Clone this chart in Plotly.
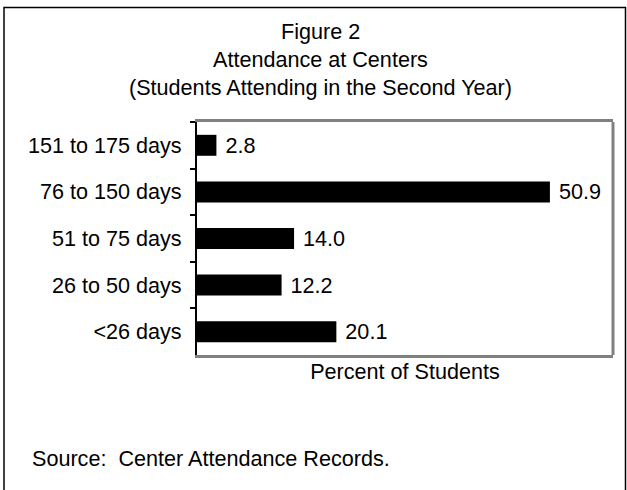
import plotly.graph_objects as go

# ---- data ----
categories = ["151 to 175 days", "76 to 150 days", "51 to 75 days", "26 to 50 days", "&lt;26 days"]
percent_students = [2.8, 50.9, 14.0, 12.2, 20.1]
value_labels = ["2.8", "50.9", "14.0", "12.2", "20.1"]

title_lines = ["Figure 2", "Attendance at Centers", "(Students Attending in the Second Year)"]
x_title = "Percent of Students"
source_text = "Source:  Center Attendance Records."

# ---- layout geometry (pixels) ----
W, H = 627, 490
L, R, T, B = 197, 613, 122, 355
pw, ph = R - L, B - T

def px_x(x):
    return (x - L) / pw

def px_y(y):
    return (B - y) / ph

FONT = "Liberation Sans, Arial, Helvetica, sans-serif"
FS = 21.6

fig = go.Figure()
fig.add_trace(go.Bar(
    x=percent_students,
    y=categories,
    orientation="h",
    marker=dict(color="black", line=dict(width=0)),
    text=[" " + v for v in value_labels],
    textposition="outside",
    constraintext="none",
    textfont=dict(family=FONT, size=FS, color="black"),
    cliponaxis=False,
    hoverinfo="skip",
))

title_y = [32, 60, 87]
annotations = [
    dict(text=line, xref="paper", yref="paper", x=px_x(320), y=px_y(yy),
         xanchor="center", yanchor="middle", showarrow=False,
         font=dict(family=FONT, size=FS, color="black"))
    for line, yy in zip(title_lines, title_y)
]
annotations.append(
    dict(text=source_text, xref="paper", yref="paper",
         x=px_x(30), y=px_y(458), xanchor="left", yanchor="middle",
         showarrow=False, font=dict(family=FONT, size=FS, color="black"))
)

fig.update_layout(
    width=W, height=H,
    margin=dict(l=L, r=W - R, t=T, b=H - B, pad=0),
    paper_bgcolor="white",
    plot_bgcolor="white",
    showlegend=False,
    bargap=0.55,
    font=dict(family=FONT, size=FS, color="black"),
    xaxis=dict(
        range=[0, 60],
        showgrid=False, zeroline=False,
        showticklabels=False, ticks="",
        showline=True, linecolor="#808080", linewidth=3, mirror=True,
        title=dict(text=x_title, standoff=7, font=dict(family=FONT, size=FS, color="black")),
        fixedrange=True,
    ),
    yaxis=dict(
        autorange="reversed",
        showgrid=False, zeroline=False,
        showline=True, linecolor="black", linewidth=2,
        ticks="outside", ticklen=5, tickwidth=1.5, tickcolor="black",
        tickson="boundaries",
        tickfont=dict(family=FONT, size=FS, color="black"),
        ticklabelstandoff=9,
        fixedrange=True,
    ),
    shapes=[
        dict(type="line", xref="paper", yref="paper", x0=1, x1=1, y0=0, y1=1,
             line=dict(color="#808080", width=3)),
        dict(type="rect", xref="paper", yref="paper",
             x0=px_x(4), x1=px_x(625.5), y0=px_y(7.5), y1=px_y(500),
             line=dict(color="black", width=1.5), fillcolor="rgba(0,0,0,0)"),
    ],
    annotations=annotations,
)

fig.write_html(
    "out.html",
    config={"displayModeBar": False},
    post_script="document.body.style.margin='0';document.body.style.overflow='hidden';",
)
